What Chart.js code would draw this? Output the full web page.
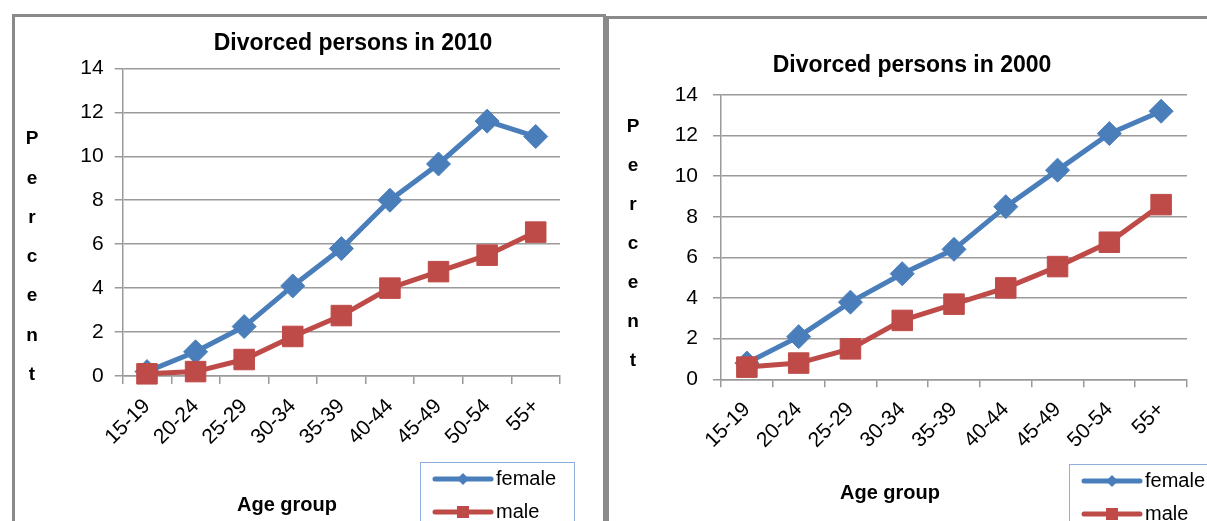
<!DOCTYPE html>
<html>
<head>
<meta charset="utf-8">
<script src="https://cdn.jsdelivr.net/npm/chart.js@4/dist/chart.umd.min.js"></script>
<style>
  html, body { margin: 0; padding: 0; background: #fff; overflow: hidden; }
  body { width: 1207px; height: 521px; position: relative; }
  .box { position: absolute; border: 3px solid #8a8a8a; overflow: hidden; }
  #box2010 { left: 12px; top: 14px; width: 588px; height: 520px; }
  #box2000 { left: 606px; top: 16px; width: 620px; height: 520px; }
  canvas { display: block; }
</style>
</head>
<body>
<div class="box" id="box2010"><canvas id="chart2010" width="588" height="504"></canvas></div>
<div class="box" id="box2000"><canvas id="chart2000" width="598" height="502"></canvas></div>
<script>
// categories and values
const ageGroups = ['15-19', '20-24', '25-29', '30-34', '35-39', '40-44', '45-49', '50-54', '55+'];
const female2010 = [0.2, 1.1, 2.25, 4.1, 5.8, 8.0, 9.65, 11.6, 10.9];
const male2010 = [0.1, 0.2, 0.75, 1.8, 2.75, 4.0, 4.75, 5.5, 6.55];
const female2000 = [0.8, 2.1, 3.8, 5.2, 6.4, 8.5, 10.3, 12.1, 13.2];
const male2000 = [0.6, 0.8, 1.5, 2.9, 3.7, 4.5, 5.55, 6.75, 8.6];
const yMin = 0, yMax = 14, yStep = 2;

const FONT = "'Liberation Sans', Arial, sans-serif";
const BLUE = '#4a7ebb';
const RED = '#be4b48';
const GRID = '#9a9a9a';

// titles, axis titles and the little legend box are drawn here
const decoPlugin = {
    id: 'deco',
    afterDraw(chart, args, o) {
        const ctx = chart.ctx;
        ctx.save();
        ctx.fillStyle = '#000';
        ctx.textAlign = 'center';
        ctx.textBaseline = 'middle';

        ctx.font = 'bold 23px ' + FONT;
        ctx.fillText(o.title, o.titleX, o.titleY);

        ctx.font = 'bold 19px ' + FONT;
        'Percent'.split('').forEach((ch, i) => {
            ctx.fillText(ch, o.yTitleX, o.yTitleY + i * o.yTitleStep);
        });

        ctx.font = 'bold 20px ' + FONT;
        ctx.fillText('Age group', o.xTitleX, o.xTitleY);

        // legend
        ctx.strokeStyle = '#8eaedb';
        ctx.lineWidth = 1;
        ctx.strokeRect(o.legendX + 0.5, o.legendY + 0.5, o.legendW, 120);
        ctx.textAlign = 'left';
        ctx.font = '20px ' + FONT;
        chart.data.datasets.forEach((ds, i) => {
            const y = o.legendY + 17 + i * 33;
            const x1 = o.legendX + 15, x2 = o.legendX + 71, cx = (x1 + x2) / 2;
            ctx.strokeStyle = ds.borderColor;
            ctx.fillStyle = ds.borderColor;
            ctx.lineWidth = 5;
            ctx.lineCap = 'round';
            ctx.beginPath();
            ctx.moveTo(x1, y);
            ctx.lineTo(x2, y);
            ctx.stroke();
            ctx.beginPath();
            if (ds.pointStyle === 'rectRot') {
                ctx.moveTo(cx - 6, y); ctx.lineTo(cx, y - 6); ctx.lineTo(cx + 6, y); ctx.lineTo(cx, y + 6);
            } else {
                ctx.rect(cx - 6, y - 6, 12, 12);
            }
            ctx.fill();
            ctx.fillStyle = '#000';
            ctx.fillText(ds.label, x2 + 5, y);
        });
        ctx.restore();
    }
};

function makeChart(id, female, male, deco) {
    return new Chart(document.getElementById(id), {
        type: 'line',
        data: {
            labels: ageGroups,
            datasets: [
                {
                    label: 'female', data: female,
                    borderColor: BLUE, backgroundColor: BLUE, borderWidth: 5,
                    pointStyle: 'rectRot', pointRadius: 12, pointBorderWidth: 1,
                    order: 2, clip: false
                },
                {
                    label: 'male', data: male,
                    borderColor: RED, backgroundColor: RED, borderWidth: 5,
                    pointStyle: 'rect', pointRadius: 14.5, pointBorderWidth: 1,
                    order: 1, clip: false
                }
            ]
        },
        options: {
            responsive: false,
            animation: false,
            events: [],
            layout: { padding: deco.padding },
            plugins: {
                legend: { display: false },
                title: { display: false },
                tooltip: { enabled: false },
                deco: deco
            },
            scales: {
                x: {
                    offset: true,
                    grid: { offset: true, drawOnChartArea: false, tickLength: 8, color: GRID, lineWidth: 1.5 },
                    border: { color: GRID, width: 1.5 },
                    ticks: { color: '#000', font: { family: FONT, size: 21 }, minRotation: 45, maxRotation: 45, padding: 10 },
                    afterFit(s) { s.height = deco.xAxisHeight; }
                },
                y: {
                    min: yMin, max: yMax,
                    grid: { color: GRID, lineWidth: 1.5, tickLength: 8 },
                    border: { color: GRID, width: 1.5 },
                    ticks: { stepSize: yStep, color: '#000', font: { family: FONT, size: 21 }, padding: deco.yTickPad },
                    afterFit(s) { s.width = deco.yAxisWidth; }
                }
            }
        },
        plugins: [decoPlugin]
    });
}

makeChart('chart2010', female2010, male2010, {
    title: 'Divorced persons in 2010', titleX: 338, titleY: 27,
    yTitleX: 17, yTitleY: 122, yTitleStep: 39.3,
    xTitleX: 272, xTitleY: 488,
    legendX: 405, legendY: 445, legendW: 154,
    padding: { left: 0, top: 51.4, right: 43, bottom: 45 },
    xAxisHeight: 100, yAxisWidth: 107.7, yTickPad: 11
});

makeChart('chart2000', female2000, male2000, {
    title: 'Divorced persons in 2000', titleX: 303, titleY: 47,
    yTitleX: 24, yTitleY: 107.7, yTitleStep: 39,
    xTitleX: 281, xTitleY: 474,
    legendX: 460, legendY: 445, legendW: 200,
    padding: { left: 0, top: 76, right: 20, bottom: 41.7 },
    xAxisHeight: 100, yAxisWidth: 112, yTickPad: 15
});
</script>
</body>
</html>
